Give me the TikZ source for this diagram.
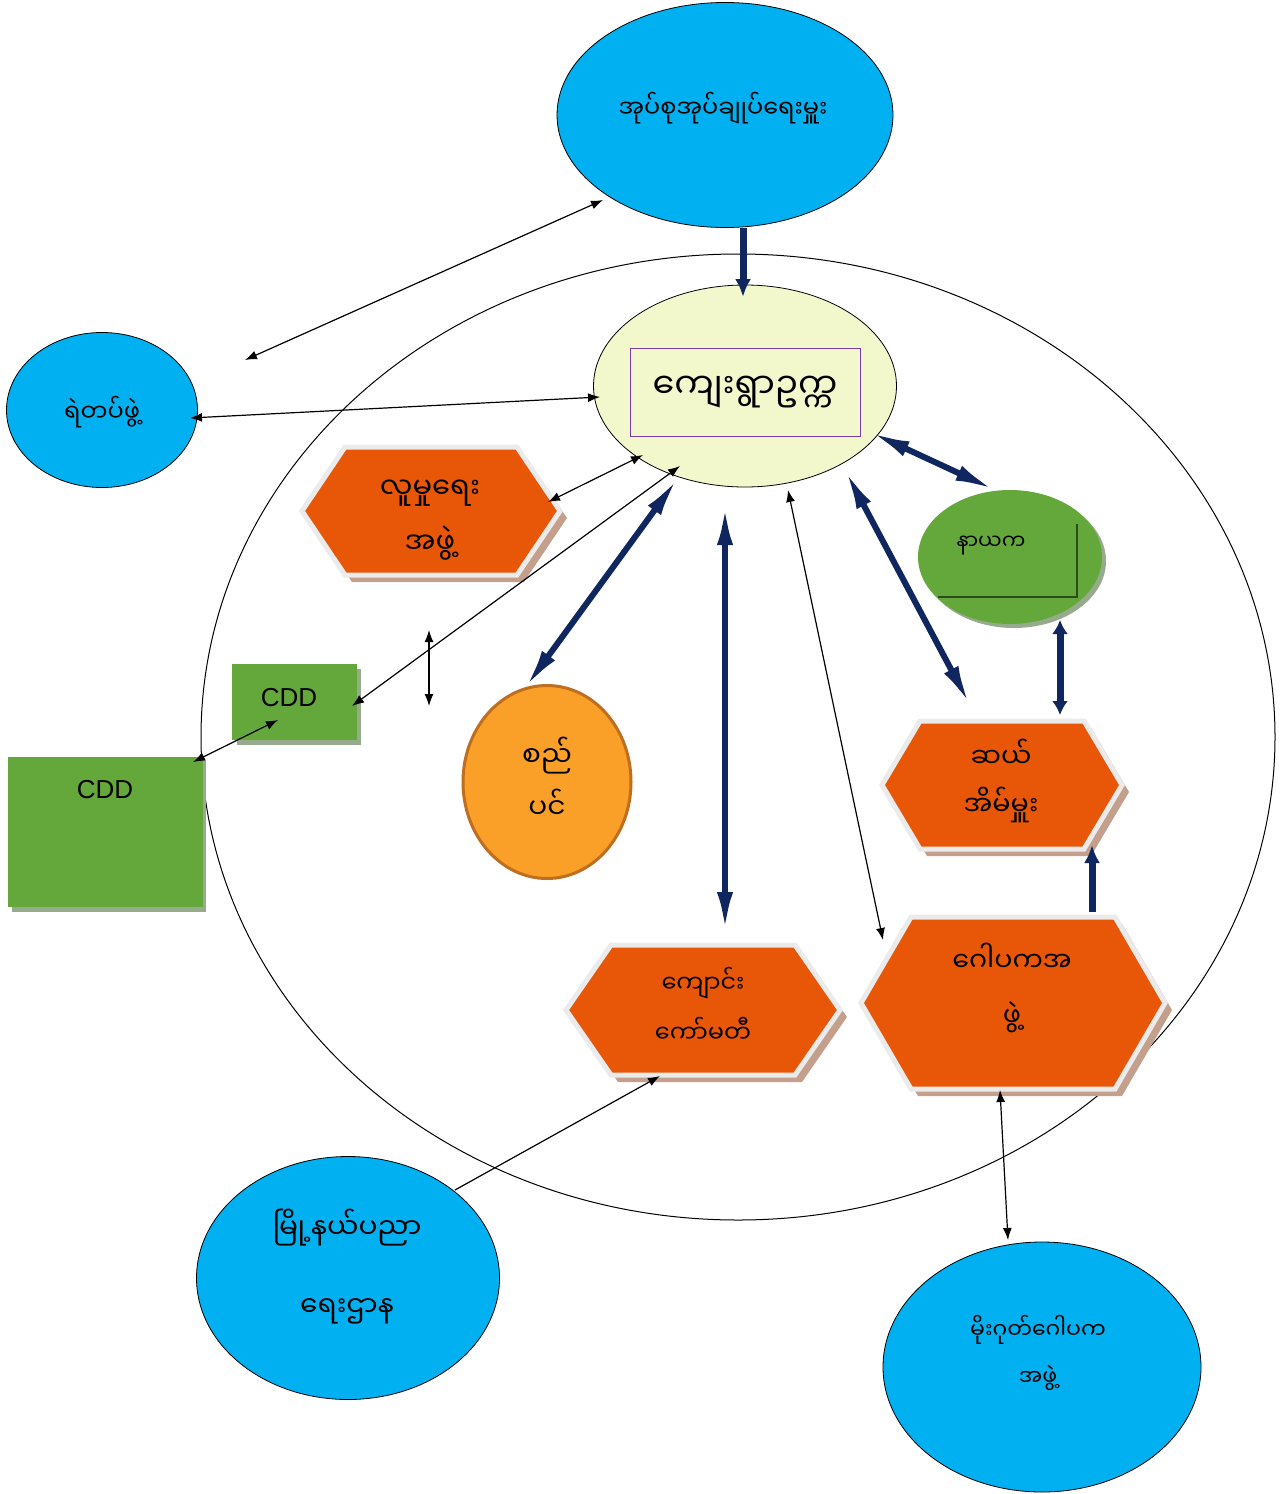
\documentclass[tikz,border=0pt]{standalone}
\usepackage{fontspec}
\newfontfamily\mya[Script=Myanmar]{Noto Sans Myanmar UI}
\setmainfont{Liberation Sans}
\usetikzlibrary{arrows.meta,shapes.geometric}
\definecolor{skyb}{RGB}{0,176,240}
\definecolor{hexor}{RGB}{232,86,8}
\definecolor{hexsh}{RGB}{196,160,140}
\definecolor{grn}{RGB}{100,168,60}
\definecolor{grnsh}{RGB}{150,170,140}
\definecolor{lyel}{RGB}{242,248,204}
\definecolor{purp}{RGB}{120,60,170}
\definecolor{navy}{RGB}{16,38,94}
\definecolor{oran}{RGB}{250,160,40}
\definecolor{orbr}{RGB}{190,110,30}
\tikzset{
  blueell/.style={ellipse,draw=black,fill=skyb,line width=0.8pt,inner sep=0pt},
  thin/.style={draw=black,line width=1.2pt,{Latex[length=12pt,width=9pt]}-{Latex[length=12pt,width=9pt]}},
  thinone/.style={draw=black,line width=1.2pt,-{Latex[length=12pt,width=9pt]}},
  thick/.style={draw=navy,line width=6pt,{Latex[length=40pt,width=16pt]}-{Latex[length=40pt,width=16pt]}},
  thickone/.style={draw=navy,line width=7pt,-{Latex[length=18pt,width=16pt]}},
  lbl/.style={font=\mya\fontsize{24}{30}\selectfont,align=center,inner sep=0pt}
}
\newcommand{\hexa}[5]{%
  \fill[hexsh] (#1-#3+7,#2+7) -- (#1-#3+#5+7,#2-#4+7) -- (#1+#3-#5+7,#2-#4+7) -- (#1+#3+7,#2+7) -- (#1+#3-#5+7,#2+#4+7) -- (#1-#3+#5+7,#2+#4+7) -- cycle;
  \draw[fill=hexor,draw=white!92!black,line width=5pt,line join=miter] (#1-#3,#2) -- (#1-#3+#5,#2-#4) -- (#1+#3-#5,#2-#4) -- (#1+#3,#2) -- (#1+#3-#5,#2+#4) -- (#1-#3+#5,#2+#4) -- cycle;
}
\begin{document}
\begin{tikzpicture}[x=1pt,y=-1pt]
\useasboundingbox (0,0) rectangle (1282,1494);
\fill[white] (0,0) rectangle (1282,1494);
% big circle
\draw[line width=1pt] (738,737) ellipse [x radius=537, y radius=483];
% hexagons
\hexa{431}{511}{129}{64}{43}
\hexa{1002}{785}{120}{64}{38}
\hexa{703}{1010}{137}{65}{45}
\hexa{1013}{1003}{152}{86}{50}
% blue ellipses
\node[blueell,minimum width=336pt,minimum height=225pt] (top) at (725,115) {};
\node[lbl] (topt) at (723,108) {အုပ်စုအုပ်ချုပ်ရေးမှူး};
\node[blueell,minimum width=191pt,minimum height=155pt] (police) at (102,410) {};
\node[lbl] (policet) at (102,412) {ရဲတပ်ဖွဲ့};
\node[blueell,minimum width=303pt,minimum height=243pt] (edu) at (348,1278) {};
\node[lbl,font=\mya\fontsize{28}{30}\selectfont] (edu1) at (347,1228) {မြို့နယ်ပညာ};
\node[lbl,font=\mya\fontsize{28}{30}\selectfont] (edu2) at (347,1311) {ရေးဌာန};
\node[blueell,minimum width=318pt,minimum height=250pt] (mogok) at (1042,1367) {};
\node[lbl,font=\mya\fontsize{22}{30}\selectfont] (mog1) at (1038,1330) {မိုးဂုတ်ဂေါပက};
\node[lbl,font=\mya\fontsize{22}{30}\selectfont] (mog2) at (1038,1378) {အဖွဲ့};
% center
\node[ellipse,draw=black,fill=lyel,line width=0.8pt,minimum width=303pt,minimum height=202pt] (chair) at (745,386) {};
\node[draw=purp,line width=1pt,fill=lyel,minimum width=230pt,minimum height=88pt,lbl,font=\mya\fontsize{35}{40}\selectfont] (chairbox) at (745,392) {ကျေးရွာဥက္က};
% hex labels
\node[lbl,font=\mya\fontsize{29}{30}\selectfont] (soc1) at (430,493) {လူမှုရေး};
\node[lbl,font=\mya\fontsize{29}{30}\selectfont] (soc2) at (430,543) {အဖွဲ့};
\node[lbl,font=\mya\fontsize{27}{30}\selectfont] (ten1) at (1001,753) {ဆယ်};
\node[lbl,font=\mya\fontsize{27}{30}\selectfont] (ten2) at (1001,805) {အိမ်မှူး};
\node[lbl] (sch1) at (703,983) {ကျောင်း};
\node[lbl] (sch2) at (703,1030) {ကော်မတီ};
\node[lbl,font=\mya\fontsize{27}{30}\selectfont] (gop1) at (1012,957) {ဂေါပကအ};
\node[lbl,font=\mya\fontsize{27}{30}\selectfont] (gop2) at (1012,1017) {ဖွဲ့};
% nayaka
\node[ellipse,fill=grnsh,minimum width=184pt,minimum height=134pt] at (1014,561) {};
\node[ellipse,fill=grn,minimum width=184pt,minimum height=134pt] (nayaka) at (1010,557) {};
\draw[line width=1.5pt,draw=black!55!grn] (1077,524) -- (1077,597) -- (938,597);
\node[lbl,font=\mya\fontsize{21}{24}\selectfont] (nayt) at (991,546) {နာယက};
% CDD boxes
\fill[grnsh] (237,669) rectangle (361,745);
\node[fill=grn,minimum width=125pt,minimum height=76pt,inner sep=0pt,anchor=north west] (cdds) at (232,664) {};
\node[font=\fontsize{26}{30}\selectfont] (cddst) at (289,698) {CDD};
\fill[grnsh] (12,761) rectangle (206,912);
\node[fill=grn,minimum width=195pt,minimum height=150pt,inner sep=0pt,anchor=north west] (cddb) at (8,757) {};
\node[font=\fontsize{26}{30}\selectfont] (cddbt) at (105,790) {CDD};
% sidepin circle
\node[ellipse,draw=orbr,fill=oran,line width=3pt,minimum width=168pt,minimum height=193pt] (market) at (547,782) {};
\node[lbl,font=\mya\fontsize{28}{30}\selectfont] (mk1) at (547,756) {စည်};
\node[lbl,font=\mya\fontsize{28}{30}\selectfont] (mk2) at (547,804) {ပင်};
% coordinates
\coordinate (pfree) at (245,360);
\coordinate (vt) at (429,630);
\coordinate (vb) at (429,706);
% thin arrows
\draw[thin] (603,200) -- (pfree);
\draw[thin] (190,418) -- (600,397);
\draw[thin] (548,502) -- (643,455);
\draw[thin] (680,466) -- (352,706);
\draw[thin] (vt) -- (vb);
\draw[thin] (278,720) -- (193,762);
\draw[thin] (788,490) -- (883,940);
\draw[thinone] (455,1190) -- (660,1076);
\draw[thin] (1000,1090) -- (1008,1240);
% thick arrows
\draw[thickone] (743,228) -- (743,297);
\draw[thick] (678,478) -- (525,688);
\draw[thick] (725,505) -- (725,932);
\draw[thick] (845,470) -- (970,705);
\draw[thick] (870,432) -- (995,490);
\draw[draw=navy,line width=7pt,{Latex[length=14pt,width=16pt]}-{Latex[length=14pt,width=16pt]}] (1060,620) -- (1060,715);
\draw[thickone] (1092,912) -- (1092,845);
\end{tikzpicture}
\end{document}
